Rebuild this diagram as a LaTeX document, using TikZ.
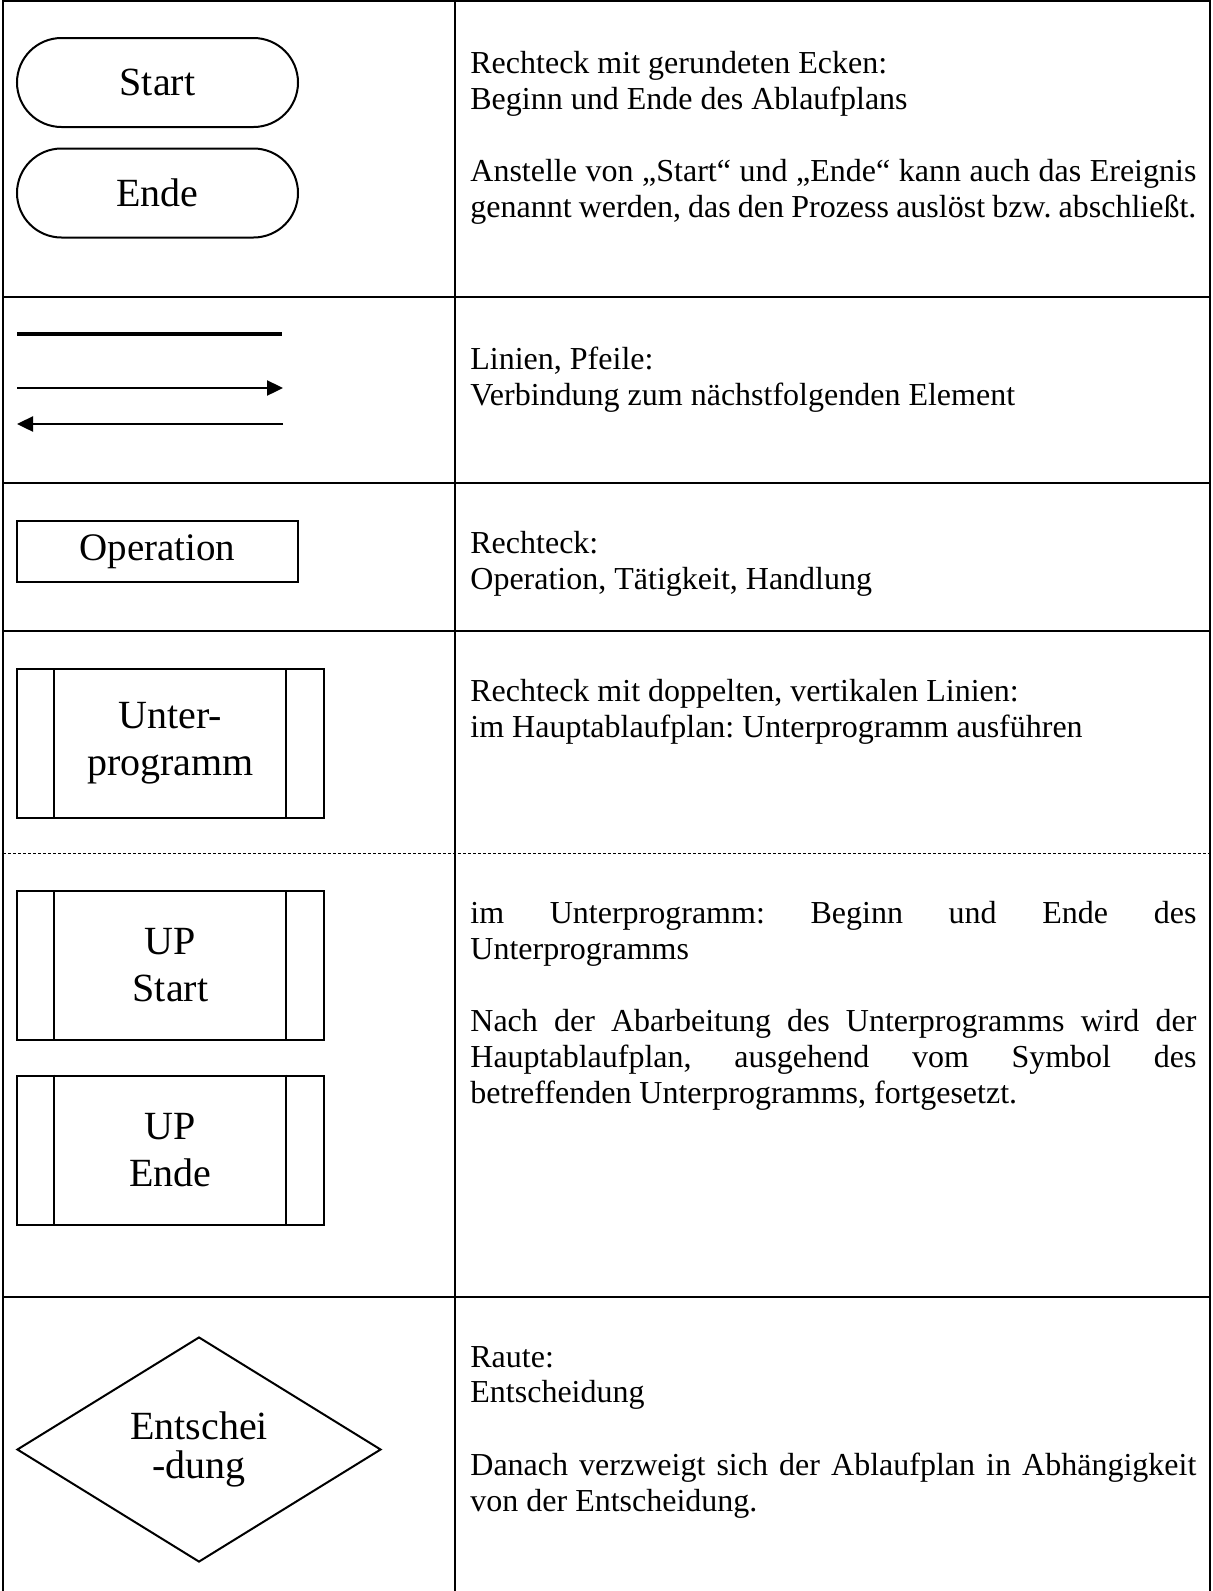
\documentclass[tikz,border=0pt]{standalone}
\usepackage{fontspec}
\setmainfont{Liberation Serif}
\usetikzlibrary{shapes.geometric,shapes.misc,arrows.meta,positioning}
\frenchspacing
\hyphenpenalty=10000
\exhyphenpenalty=10000

\begin{document}
\begin{tikzpicture}[x=0.5pt,y=-0.5pt,
                    grid/.style={line width=1pt},
                    sym/.style={draw, line width=1pt, align=center, inner sep=0pt,
                                font=\fontsize{20}{23.5}\selectfont},
                    terminal/.style={sym, rounded rectangle, minimum width=140.5pt, minimum height=44.5pt},
                    process/.style={sym, rectangle, line width=0.8pt, minimum width=140.5pt, minimum height=30.5pt,
                                    font=\fontsize{19.5}{23.5}\selectfont},
                    subproc/.style={sym, rectangle, minimum width=153.5pt, minimum height=74.5pt},
                    decision/.style={sym, diamond, minimum width=182pt, minimum height=112.5pt,
                                     font=\fontsize{20}{19.5}\selectfont},
                    desc/.style={anchor=north west, inner sep=0pt, text width=363pt, align=justify,
                                 font=\fontsize{16}{17.8}\selectfont},
                    link/.style={line width=1.2pt},
                    tip/.style={-{Triangle[length=8pt,width=7.5pt]}}
                ]
                \useasboundingbox (0,0) rectangle (1212,1591);

                % table
                \draw[grid] (3,1591) -- (3,1) -- (1210,1) -- (1210,1591);
                \draw[grid] (455,1) -- (455,1591);
                \foreach \y in {297,483,631,1297}
                  \draw[grid] (3,\y) -- (1210,\y);
                \draw[line width=0.5pt, dash pattern=on 1.5pt off 1pt] (3,853) -- (1210,853);

                % Start / Ende
                \node[terminal] (start) at (157.5,82.5) {Start};
                \node[terminal] (ende) at (157.5,193) {Ende};
                \node[desc] (txtstart) at (470,51) {Rechteck mit gerundeten Ecken:\\
                  Beginn und Ende des Ablaufplans\\[18.5pt]
                  Anstelle von „Start“ und „Ende“ kann auch das Ereignis\linebreak
                  genannt werden, das den Prozess auslöst bzw. abschließt.};

                % lines, arrows
                \coordinate (ln1) at (17,334);
                \coordinate (ln2) at (282,334);
                \coordinate (ar1) at (17,388);
                \coordinate (ar2) at (283,388);
                \coordinate (al1) at (283,424);
                \coordinate (al2) at (17,424);
                \draw[line width=2.2pt] (ln1) -- (ln2);
                \draw[link, tip] (ar1) -- (ar2);
                \draw[link, tip] (al1) -- (al2);
                \node[desc] (txtlink) at (470,347) {Linien, Pfeile:\\
                  Verbindung zum nächstfolgenden Element};

                % Operation
                \node[process] (op) at (157.5,551.5) {Operation};
                \node[desc] (txtop) at (470,531) {Rechteck:\\
                  Operation, Tätigkeit, Handlung};

                % Unterprogramm
                \node[subproc] (up) at (170.5,743.5) {Unter-\\programm};
                \node[subproc] (upstart) at (170.5,965.5) {UP\\Start};
                \node[subproc] (upende) at (170.5,1150) {UP\\Ende};
                \foreach \n in {up,upstart,upende} {
                  \draw[line width=1pt] ([xshift=19pt]\n.north west) -- ([xshift=19pt]\n.south west);
                  \draw[line width=1pt] ([xshift=-19.5pt]\n.north east) -- ([xshift=-19.5pt]\n.south east);
                }
                \node[desc] (txtup) at (470,679) {Rechteck mit doppelten, vertikalen Linien:\\
                  im Hauptablaufplan: Unterprogramm ausführen};
                \node[desc] (txtupse) at (470,901) {im Unterprogramm: Beginn und Ende des\linebreak
                  Unterprogramms\\[18.5pt]
                  Nach der Abarbeitung des Unterprogramms wird der\linebreak
                  Hauptablaufplan, ausgehend vom Symbol des\linebreak
                  betreffenden Unterprogramms, fortgesetzt.};

                % Entscheidung
                \node[decision] (dec) at (199,1449.5) {Entschei\\-dung};
                \node[desc] (txtdec) at (470,1346) {Raute:\\
                  Entscheidung\\[18.5pt]
                  Danach verzweigt sich der Ablaufplan in Abhängigkeit\linebreak
                  von der Entscheidung.};

            \end{tikzpicture}
\end{document}
